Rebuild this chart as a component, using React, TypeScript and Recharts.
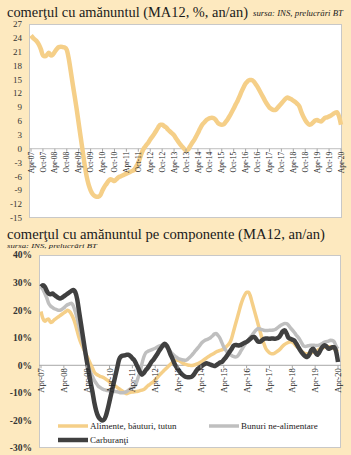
import React from 'react';
import { LineChart, Line, XAxis, YAxis, ReferenceLine } from 'recharts';

// ---------- categories (monthly, Apr-07 .. Apr-20) ----------
const MONTH_NAMES = ['Jan', 'Feb', 'Mar', 'Apr', 'May', 'Jun', 'Jul', 'Aug', 'Sep', 'Oct', 'Nov', 'Dec'];
const months: string[] = [];
for (let i = 0; i < 157; i++) {
  const mi = (3 + i) % 12;
  const yr = 7 + Math.floor((3 + i) / 12);
  months.push(`${MONTH_NAMES[mi]}-${String(yr).padStart(2, '0')}`);
}

// ---------- chart 1: retail trade total (MA12, %, y/y) ----------
const retailTotal = [
  24.5, 24.0, 23.6, 23.2, 22.5, 21.5, 20.2, 20.0, 20.3, 20.8, 20.2, 20.4,
  21.0, 21.6, 22.0, 22.1, 22.0, 21.9, 21.4, 19.5, 16.8, 14.0, 11.3, 8.5,
  5.5, 2.5, -0.5, -3.5, -6.0, -7.8, -9.0, -9.8, -10.2, -10.4, -10.4, -10.0,
  -9.0, -8.2, -7.6, -7.0, -6.6, -6.8, -7.0, -6.6, -6.2, -6.0, -5.8, -5.6,
  -5.4, -5.2, -5.0, -4.8, -4.5, -3.8, -3.0, -1.8, -0.6, 0.2, 0.8, 1.3,
  2.0, 2.6, 3.2, 3.9, 4.6, 5.2, 5.2, 4.9, 4.6, 4.1, 3.7, 3.3,
  2.9, 2.2, 1.6, 1.0, 0.5, 0.0, -0.4, -0.2, 0.5, 1.2, 1.8, 2.6,
  3.4, 4.3, 5.1, 5.6, 6.1, 6.4, 6.6, 6.7, 6.6, 6.2, 5.6, 5.3,
  5.2, 5.3, 5.8, 6.4, 7.1, 7.9, 8.7, 9.6, 10.4, 11.4, 12.4, 13.3,
  14.1, 14.6, 14.9, 14.9, 14.6, 14.0, 13.4, 12.6, 11.8, 11.0, 10.2, 9.5,
  8.9, 8.6, 8.4, 8.4, 8.8, 9.3, 9.8, 10.3, 10.8, 11.1, 10.9, 10.7,
  10.4, 10.1, 9.7, 9.2, 8.0, 7.0, 6.2, 5.6, 5.2, 5.3, 5.7, 6.1,
  6.2, 6.0, 5.9, 6.3, 6.7, 6.8, 7.0, 7.2, 7.5, 7.8, 7.9, 7.0,
  5.2,
];
const yTicks1 = [-15, -12, -9, -6, -3, 0, 3, 6, 9, 12, 15, 18, 21, 24, 27];

// ---------- chart 2: components (MA12, %, y/y) ----------
const food = [
  19.5, 17.0, 16.0, 16.5, 16.8, 15.5, 15.8, 16.5, 17.0, 17.5, 18.0, 18.5,
  19.0, 19.5, 20.0, 19.5, 18.5, 17.0, 15.0, 12.5, 10.0, 8.0, 6.5, 5.0,
  3.5, 2.0, 0.5, -1.0, -2.5, -3.2, -3.6, -4.0, -4.2, -4.5, -5.0, -5.5,
  -6.0, -6.5, -7.0, -7.5, -8.0, -8.5, -9.0, -9.5, -10.0, -10.3, -10.0, -9.8,
  -9.7, -9.6, -9.5, -9.4, -9.2, -9.0, -8.8, -8.2, -7.5, -7.0, -6.5, -6.0,
  -5.2, -4.5, -3.7, -3.0, -2.3, -1.6, -1.0, -0.3, 0.4, 1.0, 1.5, 1.8,
  1.8, 1.5, 1.0, 0.6, 0.3, 0.1, 0.0, -0.1, 0.0, 0.2, 0.5, 0.8,
  1.2, 1.7, 2.2, 2.7, 3.2, 3.6, 4.0, 4.4, 4.8, 5.1, 5.4, 5.6,
  6.0, 6.5, 7.2, 8.0, 9.5, 12.0, 14.5, 17.0, 19.5, 22.0, 24.0, 25.5,
  26.5, 26.5, 25.0, 22.5, 20.0, 17.5, 15.0, 12.5, 10.0, 8.0, 6.2, 5.2,
  4.5, 4.2, 4.2, 4.5, 5.0, 5.5, 6.2, 7.0, 7.6, 8.0, 8.3, 8.5,
  8.4, 7.8, 7.0, 6.5, 5.8, 5.0, 4.5, 4.2, 4.2, 4.3, 4.5, 4.8,
  5.0, 5.4, 5.8, 6.2, 6.4, 6.5, 6.6, 6.7, 6.7, 6.5, 6.0, 5.5,
  5.0,
];
const nonFood = [
  28.5, 27.5, 26.0, 24.5, 22.5, 21.5, 21.0, 20.5, 20.3, 20.0, 20.0, 20.3,
  20.8, 21.5, 22.0, 22.3, 22.5, 21.5, 19.5, 17.0, 14.0, 11.0, 8.0, 5.0,
  2.0, -0.5, -2.5, -4.0, -5.5, -6.5, -7.5, -8.0, -8.5, -8.8, -9.0, -9.2,
  -9.3, -9.4, -9.5, -9.5, -9.6, -9.8, -10.0, -10.0, -9.8, -9.5, -9.0, -8.5,
  -8.2, -7.8, -6.5, -4.5, -2.5, 0.5, 3.0, 4.5, 5.0, 5.3, 5.6, 5.9,
  6.2, 6.6, 7.0, 7.2, 7.1, 6.9, 6.6, 6.0, 5.0, 4.2, 3.5, 3.0,
  2.5, 2.2, 2.0, 1.9, 1.8, 2.2, 2.8, 3.5, 4.3, 5.2, 6.0, 6.8,
  7.8, 8.5, 9.0, 9.3, 9.6, 10.0, 10.6, 11.3, 11.5, 10.8, 9.8, 8.2,
  6.6, 5.5, 4.6, 4.0, 3.6, 3.2, 3.0, 3.2, 4.0, 5.2, 6.3, 7.4,
  8.4, 9.3, 10.2, 11.0, 12.0, 12.8, 13.3, 13.2, 12.9, 12.7, 12.6, 12.6,
  12.7, 12.7, 12.8, 13.0, 13.5, 14.0, 14.5, 14.9, 15.2, 15.1, 14.5, 13.6,
  12.8, 12.0, 11.0, 10.2, 9.2, 8.0, 7.0, 6.8, 7.0, 7.2, 7.3, 7.3,
  7.2, 7.2, 7.3, 7.6, 8.0, 8.4, 8.6, 8.8, 9.1, 9.0, 8.5, 7.0,
  6.0,
];
const fuel = [
  28.5, 29.0, 28.5, 27.0, 26.0, 25.8, 26.0, 25.5, 25.0, 24.5, 24.2, 24.5,
  25.0, 25.5, 26.0, 26.5, 27.0, 27.3, 26.5, 24.0, 19.5, 15.0, 10.5, 6.0,
  1.8, -2.0, -6.0, -9.5, -13.5, -16.5, -18.5, -19.5, -20.0, -19.8, -18.5, -16.0,
  -13.0, -10.0, -7.0, -4.0, -1.0, 2.0, 3.2, 3.5, 3.6, 3.8, 3.8, 3.3,
  2.5, 1.8, 0.5, -1.0, -2.5, -3.4, -2.8, -1.8, -1.0, 0.0, 1.2, 2.0,
  3.0, 4.0, 5.2, 6.2, 7.2, 7.8, 7.2, 5.8, 4.0, 2.5, 0.8, -0.5,
  -1.5, -2.5, -3.2, -3.8, -4.2, -4.3, -4.3, -4.2, -3.6, -2.6, -1.6, -1.0,
  -0.5, 0.0, 0.5, 0.7, 0.5, 0.2, 0.0, -0.3, 0.0, 0.5, 1.0, 1.2,
  2.0, 2.8, 3.8, 4.8, 5.8, 7.0, 7.4, 7.3, 7.2, 7.4, 7.8, 8.2,
  8.5, 9.0, 9.6, 10.2, 10.3, 9.5, 8.6, 8.5, 9.0, 9.5, 9.7, 9.7,
  9.6, 9.7, 9.7, 9.6, 9.8, 10.2, 11.2, 12.3, 12.7, 11.5, 10.0, 9.6,
  9.3, 9.0, 8.0, 6.8, 5.6, 4.6, 3.8, 3.2, 3.0, 4.0, 5.5, 6.0,
  4.8, 3.8, 4.5, 5.8, 6.8, 7.3, 6.8, 6.0, 6.2, 6.5, 6.5, 5.0,
  1.2,
];
const yTicks2 = [-30, -20, -10, 0, 10, 20, 30, 40];

const seriesNames = ['Alimente, băuturi, tutun', 'Bunuri ne-alimentare', 'Carburanţi'];
const seriesKeys = ['food', 'nonFood', 'fuel'];
const seriesColors = ['#F5CF88', '#BFBFBF', '#404040'];
const seriesWidths = [3.5, 3.5, 4.5];

const data1 = months.map((m, i) => ({ month: m, total: retailTotal[i] }));
const data2 = months.map((m, i) => ({ month: m, food: food[i], nonFood: nonFood[i], fuel: fuel[i] }));

// ---------- layout ----------
const W = 351;
const H = 455;
const BG = '#FDE9BF';
const FONT = "'Liberation Serif', 'DejaVu Serif', serif";

const C1 = { top: 0, h: 230, mt: 24, mr: 9, mb: 11, yw: 29, min: -15, max: 27 };
const C1plotH = C1.h - C1.mt - C1.mb - 1;
const C1plotW = W - C1.mr - C1.yw;
const C1up = (C1plotH * (0 - C1.min)) / (C1.max - C1.min);

const C2 = { top: 245, h: 210, mt: 10, mr: 10, mb: 6, yw: 39, min: -30, max: 40 };
const C2plotH = C2.h - C2.mt - C2.mb - 1;
const C2plotW = W - C2.mr - C2.yw;
const C2up = (C2plotH * (0 - C2.min)) / (C2.max - C2.min);

function RotTick(props: any) {
  const { x, y, payload, up, size } = props;
  const y0 = y - up;
  return (
    <g>
      <line x1={x} y1={y0} x2={x} y2={y0 + 3} stroke="#A6A6A6" strokeWidth={1} />
      <text
        x={x}
        y={y0 + 3}
        transform={`rotate(-90 ${x} ${y0 + 3})`}
        textAnchor="end"
        dy="0.35em"
        fontSize={size}
        fontFamily={FONT}
        fill="#262626"
      >
        {payload.value}
      </text>
    </g>
  );
}

export default function App() {
  return (
    <div style={{ position: 'absolute', left: 0, top: 0, width: W, height: H, background: BG, overflow: 'hidden' }}>
      {/* titles */}
      <svg width={W} height={H} style={{ position: 'absolute', left: 0, top: 0 }}>
        <text x={7} y={17} fontSize={14.5} fontFamily={FONT} fill="#1a1a1a" textLength={241} lengthAdjust="spacingAndGlyphs">
          comerţul cu amănuntul (MA12, %, an/an)
        </text>
        <text x={253} y={16} fontSize={7.5} fontStyle="italic" fontFamily={FONT} fill="#1a1a1a" textLength={90} lengthAdjust="spacingAndGlyphs">
          sursa: INS, prelucrări BT
        </text>
        <text x={7} y={238.5} fontSize={14.5} fontFamily={FONT} fill="#1a1a1a" textLength={318} lengthAdjust="spacingAndGlyphs">
          comerţul cu amănuntul pe componente (MA12, an/an)
        </text>
        <text x={7} y={248} fontSize={7} fontStyle="italic" fontFamily={FONT} fill="#1a1a1a" textLength={90} lengthAdjust="spacingAndGlyphs">
          sursa: INS, prelucrări BT
        </text>
      </svg>

      {/* chart 1 */}
      <div
        style={{
          position: 'absolute',
          left: C1.yw,
          top: C1.top + C1.mt,
          width: C1plotW,
          height: C1plotH,
          background: '#ffffff',
          border: '1px solid #C8C8C8',
          boxSizing: 'border-box',
        }}
      />
      <div style={{ position: 'absolute', left: 0, top: C1.top }}>
        <LineChart width={W} height={C1.h} data={data1} margin={{ top: C1.mt, right: C1.mr, bottom: C1.mb, left: 0 }}>
          <XAxis
            dataKey="month"
            interval={5}
            height={1}
            tickSize={0}
            tickMargin={0}
            axisLine={false}
            tickLine={false}
            padding={{ left: 2, right: 1 }}
            tick={<RotTick up={C1up} size={7.5} />}
          />
          <YAxis
            width={C1.yw}
            domain={[C1.min, C1.max]}
            ticks={yTicks1}
            axisLine={false}
            tickLine={false}
            tickSize={0}
            tickMargin={7}
            interval={0}
            tick={{ fontSize: 9, fontFamily: FONT, fill: '#333333' }}
          />
          <ReferenceLine y={0} stroke="#BFBFBF" strokeWidth={1} />
          <Line type="monotone" dataKey="total" stroke="#F5CF88" strokeWidth={4.5} dot={false} isAnimationActive={false} />
        </LineChart>
      </div>

      {/* chart 2 */}
      <div
        style={{
          position: 'absolute',
          left: C2.yw,
          top: C2.top + C2.mt,
          width: C2plotW,
          height: C2plotH,
          background: '#ffffff',
          border: '1px solid #C8C8C8',
          boxSizing: 'border-box',
        }}
      />
      <div style={{ position: 'absolute', left: 0, top: C2.top }}>
        <LineChart width={W} height={C2.h} data={data2} margin={{ top: C2.mt, right: C2.mr, bottom: C2.mb, left: 0 }}>
          <XAxis
            dataKey="month"
            interval={11}
            height={1}
            tickSize={0}
            tickMargin={0}
            axisLine={false}
            tickLine={false}
            padding={{ left: 2, right: 3 }}
            tick={<RotTick up={C2up} size={8.5} />}
          />
          <YAxis
            width={C2.yw}
            domain={[C2.min, C2.max]}
            ticks={yTicks2}
            axisLine={false}
            tickLine={false}
            tickSize={0}
            tickMargin={7}
            interval={0}
            tickFormatter={(v: number) => `${v}%`}
            tick={{ fontSize: 9.5, fontFamily: FONT, fontWeight: 700, fill: '#333333' }}
          />
          <ReferenceLine y={0} stroke="#A6A6A6" strokeWidth={1} />
          {seriesKeys.map((k, i) => (
            <Line
              key={k}
              type="monotone"
              dataKey={k}
              name={seriesNames[i]}
              stroke={seriesColors[i]}
              strokeWidth={seriesWidths[i]}
              dot={false}
              isAnimationActive={false}
            />
          ))}
        </LineChart>
      </div>

      {/* legend for chart 2 */}
      <svg width={W} height={H} style={{ position: 'absolute', left: 0, top: 0, pointerEvents: 'none' }}>
        {seriesNames.map((name, i) => {
          const lx = i === 1 ? 209 : 58;
          const ly = i === 2 ? 440 : 426;
          return (
            <g key={name}>
              <line x1={lx} y1={ly} x2={lx + 30} y2={ly} stroke={seriesColors[i]} strokeWidth={seriesWidths[i]} />
              <text x={lx + 32} y={ly} dy="0.33em" fontSize={9} fontFamily={FONT} fill="#1a1a1a">
                {name}
              </text>
            </g>
          );
        })}
      </svg>
    </div>
  );
}
